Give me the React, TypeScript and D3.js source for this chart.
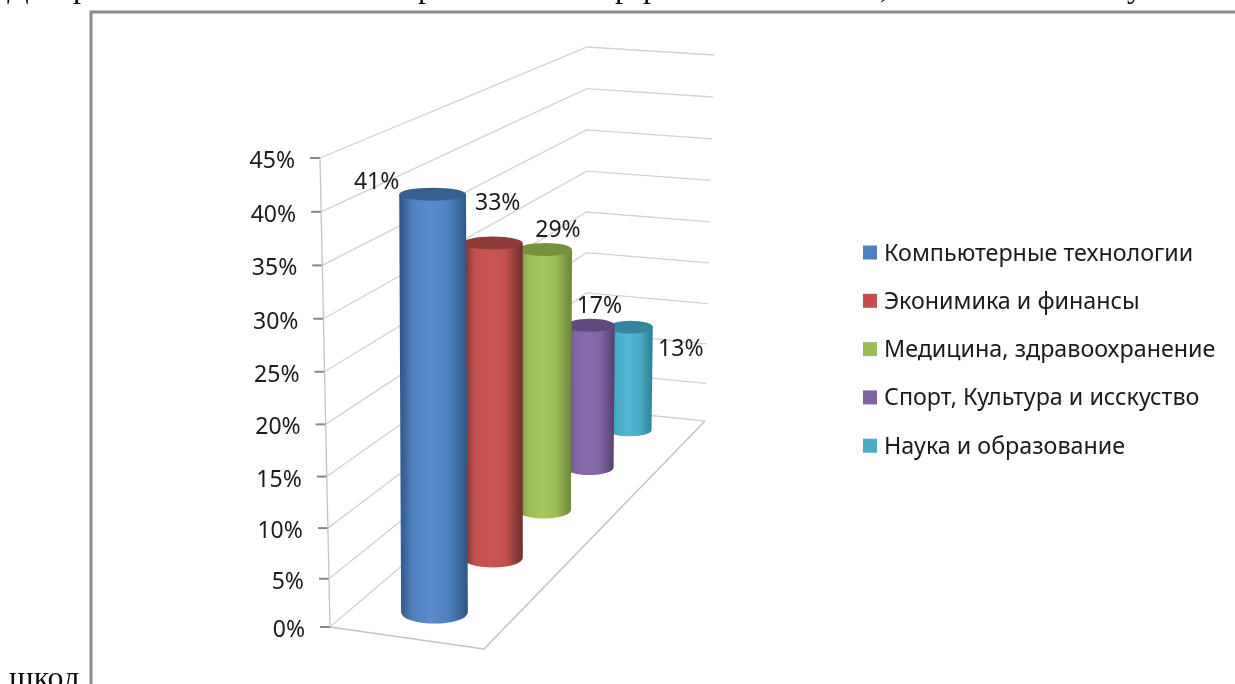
import React from 'react';
import * as d3 from 'd3';

const categories = [
  'Компьютерные технологии',
  'Эконимика и финансы',
  'Медицина, здравоохранение',
  'Спорт, Культура и исскуство',
  'Наука и образование',
];
const values = [41, 33, 29, 17, 13];
const valueLabels = ['41%', '33%', '29%', '17%', '13%'];
const tickValues = [0, 5, 10, 15, 20, 25, 30, 35, 40, 45];

const baseColors = ['#4f81bd', '#c0504d', '#9bbb59', '#8064a2', '#4bacc6'];
const lightColors = ['#5b8ccf', '#cc5452', '#a5c960', '#8869ad', '#4fb8d2'];
const darkColors = ['#2f5480', '#6e2e2c', '#6a8439', '#523f6b', '#2c7d93'];
const capColors = ['#38608f', '#8f3b39', '#76923c', '#60497b', '#36859c'];

type Pt = [number, number];
// plot box corners, f = front, b = back, l/r = sides of the floor
const floor = { fl: [330, 627] as Pt, fr: [484, 649] as Pt, bl: [586, 409] as Pt, br: [705, 421] as Pt };
const ceil = { fl: [320, 158] as Pt, fr: [488, 172] as Pt, bl: [587, 47] as Pt, br: [714, 55] as Pt };

const lerp = (a: number, b: number, t: number) => a + (b - a) * t;
const yFrac = d3.scalePow().exponent(1.035).domain([0, 45]).range([0, 1]);
const barWidth = d3.scaleLinear().domain([0, 1]).range([70, 42]);
const baseRy = d3.scaleLinear().domain([0, 1]).range([12, 6]);
const capRy = 6.5;
const depthBand = d3.scaleBand<number>().domain(d3.range(values.length)).range([-0.015, 1.015]);

// depth along the floor with foreshortening
const persp = (d: number) => (1.35 * d) / (1 + 0.35 * d);

const corner = (c: typeof floor, t: number, s: number): Pt => [
  lerp(lerp(c.fl[0], c.fr[0], s), lerp(c.bl[0], c.br[0], s), t),
  lerp(lerp(c.fl[1], c.fr[1], s), lerp(c.bl[1], c.br[1], s), t),
];
const project = (t: number, s: number, v: number): Pt => {
  const a = corner(floor, t, s);
  const b = corner(ceil, t, s);
  const f = yFrac(v);
  return [lerp(a[0], b[0], f), lerp(a[1], b[1], f)];
};

const line = d3.line();

const cylinderPath = (base: Pt, top: Pt, rx: number, ry: number) =>
  `M${top[0] - rx},${top[1]} L${base[0] - rx},${base[1]} A${rx},${ry} 0 0 0 ${base[0] + rx},${base[1]} L${top[0] + rx},${top[1]} Z`;

// data label position relative to the cylinder top
const labelOffsets: Pt[] = [
  [-56, -5],
  [5, -33],
  [13, -12],
  [9, -12],
  [50, 29],
];

// bits of the page text line cut off by the screenshot
const topFragments: [string, number][] = [
  ['Д', 7],
  ['р', 73],
  ['р', 418],
  ['р', 615],
  ['р', 643],
  [',', 880],
  ['у', 1127],
];

export default function App() {
  const bars = values.map((v, i) => {
    const t = persp((depthBand(i) as number) + depthBand.bandwidth() / 2);
    const w = barWidth(t);
    return { v, i, t, base: project(t, 0.5, 0), top: project(t, 0.5, v), rx: w / 2, ry: baseRy(t) };
  });

  return (
    <svg
      width={1235}
      height={684}
      style={{ position: 'absolute', left: 0, top: 0 }}
      fontFamily="'Noto Sans', sans-serif"
    >
      <defs>
        <filter id="soft" x="-5%" y="-5%" width="110%" height="110%">
          <feGaussianBlur stdDeviation="0.55" />
        </filter>
        {values.map((_, i) => (
          <linearGradient key={i} id={`bar${i}`} x1="0" x2="1" y1="0" y2="0">
            <stop offset="0" stopColor={darkColors[i]} />
            <stop offset="0.2" stopColor={baseColors[i]} />
            <stop offset="0.45" stopColor={lightColors[i]} />
            <stop offset="0.72" stopColor={baseColors[i]} />
            <stop offset="1" stopColor={darkColors[i]} />
          </linearGradient>
        ))}
      </defs>

      <rect width={1235} height={684} fill="#fff" />

      <g filter="url(#soft)">
        {/* page text around the pasted picture */}
        <g fontFamily="'Liberation Serif', serif" fontSize={32} fill="#111">
          {topFragments.map(([ch, x], i) => (
            <text key={i} x={x} y={-3}>
              {ch}
            </text>
          ))}
          <text x={9} y={688}>
            школ
          </text>
        </g>

        <path d="M91,684 V12 H1235" fill="none" stroke="#8a8a8a" strokeWidth={3} />

        {/* grid lines on side and back walls */}
        {tickValues.map((v) => {
          const a = project(0, 0, v);
          const b = project(1, 0, v);
          const c = project(1, 1, v);
          return (
            <g key={v}>
              <path d={line([a, b, c]) as string} fill="none" stroke="#d2d2d2" strokeWidth={1.3} />
              <line x1={a[0] - 10} x2={a[0]} y1={a[1]} y2={a[1]} stroke="#868686" strokeWidth={2} />
              <text x={a[0] - 25} y={a[1] + 10} textAnchor="end" fontSize={23} fill="#1a1a1a">
                {v}%
              </text>
            </g>
          );
        })}
        <path d={line([project(0, 0, 0), project(0, 0, 45)]) as string} stroke="#c4c4c4" strokeWidth={1.3} />
        <path
          d={line([project(0, 0, 0), project(0, 1, 0), project(1, 1, 0)]) as string}
          fill="none"
          stroke="#c4c4c4"
          strokeWidth={1.5}
        />

        {/* back to front so nearer cylinders cover the far ones */}
        {[...bars].reverse().map((b) => (
          <g key={b.i}>
            <path d={cylinderPath(b.base, b.top, b.rx, b.ry)} fill={`url(#bar${b.i})`} />
            <ellipse cx={b.top[0]} cy={b.top[1]} rx={b.rx} ry={capRy} fill={capColors[b.i]} />
          </g>
        ))}

        {bars.map((b) => (
          <text
            key={b.i}
            x={b.top[0] + labelOffsets[b.i][0]}
            y={b.top[1] + labelOffsets[b.i][1]}
            fontSize={23}
            fill="#1a1a1a"
            textAnchor="middle"
          >
            {valueLabels[b.i]}
          </text>
        ))}

        {/* legend */}
        {categories.map((c, i) => {
          const y = 252.5 + i * 48.3;
          return (
            <g key={c}>
              <rect x={863} y={y - 7} width={14} height={14} fill={baseColors[i]} />
              <text x={884} y={y + 8} fontSize={23.3} fill="#1a1a1a">
                {c}
              </text>
            </g>
          );
        })}
      </g>
    </svg>
  );
}
